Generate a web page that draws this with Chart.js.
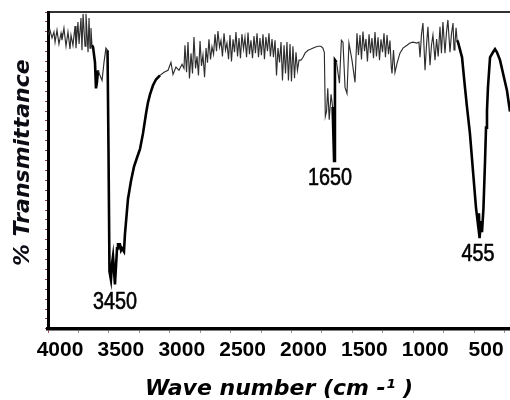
<!DOCTYPE html>
<html>
<head>
<meta charset="utf-8">
<script src="https://cdn.jsdelivr.net/npm/chart.js@4.4.1/dist/chart.umd.min.js"></script>
<style>
  html, body { margin: 0; padding: 0; background: #fff; }
  #wrap { width: 510px; height: 400px; }
</style>
</head>
<body>
<div id="wrap"><canvas id="ir" width="510" height="400"></canvas></div>
<script>
// FTIR spectrum: wavenumber (cm-1) and % transmittance
const wavenumbers = [
  4000, 3984, 3967, 3951, 3942, 3926, 3910, 3893, 3885, 3869, 3852, 3836, 3819, 3811, 3795,
  3778, 3770, 3754, 3745, 3729, 3721, 3712, 3696, 3688, 3671, 3663, 3655, 3647, 3639,
  3630, 3614, 3606, 3598, 3589, 3573, 3556, 3540, 3524, 3511, 3503, 3495, 3483, 3474, 3466,
  3450, 3433, 3425, 3409, 3400, 3392, 3376, 3368, 3343, 3318, 3294, 3269, 3244, 3220, 3195,
  3179, 3162, 3138, 3113, 3080, 3047, 3014, 2990, 2973, 2949, 2924, 2899, 2883,
  2875, 2862, 2850, 2838, 2825, 2813, 2801, 2788, 2776, 2764, 2751, 2739, 2727, 2714, 2702,
  2690, 2678, 2665, 2653, 2640, 2628, 2616, 2604, 2591, 2579, 2567, 2554, 2542, 2530, 2517,
  2505, 2493, 2480, 2468, 2456, 2443, 2431, 2419, 2407, 2394, 2382, 2369, 2357, 2345, 2333,
  2320, 2308, 2296, 2283, 2271, 2259, 2247, 2234, 2222, 2210, 2197, 2185, 2173, 2160, 2148,
  2135, 2123, 2111, 2098, 2086, 2074, 2061, 2049, 2037, 2025, 2012, 2000, 1988, 1975, 1963,
  1951, 1938, 1922, 1905, 1889, 1864, 1840, 1807, 1782, 1758,
  1742, 1730, 1722, 1712, 1702, 1690, 1675, 1662, 1650, 1643, 1630, 1606, 1590, 1577, 1560,
  1544, 1528, 1503, 1478, 1462,
  1450, 1437, 1425, 1413, 1400, 1388, 1376, 1363, 1351, 1339, 1326, 1314, 1302, 1289, 1277,
  1265, 1252, 1240, 1228, 1215, 1203, 1191, 1180, 1174, 1162, 1150,
  1133, 1109, 1084, 1051, 1027, 1002, 969, 953,
  944, 932, 920, 903, 890, 879, 862, 850, 838, 821, 808, 795, 780, 768, 756,
  739, 727, 715, 698, 686, 673, 665, 657, 648, 640, 632,
  599, 575, 558, 534, 509, 484, 468, 460, 455, 443, 435, 423, 410, 402, 394,
  386, 369, 345, 328, 312, 287, 262, 230, 205
];
const transmittance = [
  92.7, 94.3, 91.8, 93.7, 90.5, 94.3, 89.9, 93.3, 91.1, 94.9, 89.2, 93.7, 88.3, 92.7, 89.5,
  95.6, 88.6, 96.8, 89.9, 98.1, 87.9, 99.4, 89.2, 99.4, 87.3, 98.1, 88.6, 94.9, 89.5,
  88.9, 84.1, 75.9, 77.8, 81.6, 80.0, 78.4, 84.1, 88.6, 87.9, 56.2, 18.1, 15.5, 20.6, 22.9,
  14.0, 25.4, 26.7, 26.7, 24.8, 25.4, 24.4, 29.8, 41.0, 46.7, 51.1, 54.0, 56.8, 61.6, 67.9,
  71.4, 74.0, 76.8, 78.7, 80.0, 81.0, 81.6, 84.1, 80.3, 82.6, 81.6, 83.5, 82.2,
  89.5, 81.0, 90.5, 79.0, 87.0, 80.6, 92.1, 82.2, 86.0, 80.0, 90.8, 83.0, 86.4, 79.4, 88.6,
  84.0, 91.4, 85.0, 89.0, 86.7, 93.0, 87.6, 94.0, 88.9, 91.0, 86.0, 93.3, 88.0, 90.2, 85.1,
  92.7, 84.4, 91.4, 87.3, 93.7, 86.0, 91.8, 85.4, 93.0, 88.3, 92.0, 85.7, 93.5, 86.7, 91.1,
  85.4, 92.4, 87.0, 93.3, 85.7, 91.8, 86.4, 93.0, 85.1, 92.1, 87.6, 93.3, 86.0, 91.5, 85.7,
  91.1, 80.0, 88.6, 84.1, 90.5, 78.4, 89.5, 80.6, 90.5, 78.4, 89.9, 78.1, 89.2, 79.1, 87.3,
  81.6, 84.8, 84.8, 85.7, 87.0, 87.9, 88.3, 88.9, 89.2, 89.2,
  88.6, 87.3, 67.0, 68.6, 75.9, 66.0, 74.0, 70.0, 53.0, 84.8, 84.1, 77.5, 91.1, 90.5, 76.2,
  74.3, 90.2, 84.8, 77.8, 93.3,
  86.4, 92.7, 85.0, 93.8, 87.6, 91.5, 84.4, 93.0, 87.0, 91.8, 85.4, 93.7, 86.0, 92.0, 84.8,
  91.4, 87.3, 93.3, 85.7, 92.7, 86.7, 91.0, 82.5, 80.6, 88.0, 80.9,
  83.8, 87.0, 88.6, 89.5, 90.2, 90.5, 90.2, 90.5,
  85.7, 93.0, 96.5, 81.6, 90.0, 95.3, 83.2, 89.5, 92.7, 84.8, 91.5, 86.0, 95.3, 87.0, 96.8,
  87.0, 93.5, 97.5, 87.3, 93.0, 96.5, 88.0, 90.2, 95.0, 91.1, 90.5,
  85.7, 76.2, 69.9, 61.6, 49.8, 38.1, 33.0, 36.5, 28.6, 34.0, 30.5, 38.0, 53.0, 63.5, 68.9,
  76.2, 85.7, 87.3, 88.3, 87.3, 84.8, 80.6, 75.2, 68.6
];

// axis ticks (labelled every 500, plain marks in between)
const xMajorTicks = [4000, 3500, 3000, 2500, 2000, 1500, 1000, 500];
const xMinorTicks = [3750, 3250, 2750, 2250, 1750, 1250, 750, 250];

// band assignments printed under the absorption minima
const peakLabels = ['3450', '1650', '455'];
const peakWavenumbers = [3450, 1650, 455];
const peakTransmittance = [14.0, 53.0, 28.6];
const peakLabelShift = [[0, 18.5], [-4, 17.5], [-1.6, 16]];

// strong bands are drawn with a heavier stroke
const heavyRanges = [[3640, 3595], [3515, 3090], [1662, 1640], [640, 200]];
const isHeavy = a => heavyRanges.some(([hi, lo]) => a <= hi && a >= lo);

const peakLabelPlugin = {
  id: 'peakLabels',
  afterDatasetsDraw(chart) {
    const { ctx, scales: { x, y } } = chart;
    ctx.save();
    ctx.font = '23px "Liberation Sans", Arial, sans-serif';
    ctx.fillStyle = '#000';
    ctx.strokeStyle = '#000';
    ctx.lineWidth = 0.6;
    ctx.textAlign = 'center';
    ctx.textBaseline = 'middle';
    peakLabels.forEach((t, i) => {
      const px = x.getPixelForValue(peakWavenumbers[i]) + peakLabelShift[i][0];
      const py = y.getPixelForValue(peakTransmittance[i]) + peakLabelShift[i][1];
      ctx.save();
      ctx.translate(px, py);
      ctx.scale(0.86, 1);
      ctx.fillText(t, 0, 0);
      ctx.strokeText(t, 0, 0);
      ctx.restore();
    });
    ctx.restore();
  }
};

new Chart(document.getElementById('ir'), {
  type: 'line',
  data: {
    datasets: [{
      data: wavenumbers.map((w, i) => ({ x: w, y: transmittance[i] })),
      borderColor: '#222',
      borderWidth: 1.2,
      pointRadius: 0,
      tension: 0,
      fill: false,
      segment: {
        borderWidth: c => isHeavy(c.p0.parsed.x) ? 2.6 : 1.15,
        borderColor: c => isHeavy(c.p0.parsed.x) ? '#000' : '#2e2e2e'
      }
    }]
  },
  options: {
    responsive: false,
    animation: false,
    devicePixelRatio: 1,
    layout: { padding: { left: 12, top: 12, right: 0, bottom: 0 } },
    plugins: { legend: { display: false }, tooltip: { enabled: false } },
    scales: {
      x: {
        type: 'linear',
        reverse: true,
        min: 205,
        max: 4000,
        afterBuildTicks: s => {
          s.ticks = xMajorTicks.concat(xMinorTicks).sort((a, b) => a - b).map(v => ({ value: v }));
        },
        grid: {
          drawOnChartArea: false,
          tickLength: 4,
          tickWidth: 1,
          tickColor: c => (c.tick && c.tick.value === 4000) ? '#b04050' : '#8a8a8a'
        },
        border: { color: '#000', width: 3.5 },
        ticks: {
          autoSkip: false,
          maxRotation: 0,
          padding: 5,
          labelOffset: 12,
          color: '#000',
          font: { family: '"Liberation Sans", Arial, sans-serif', size: 21, weight: 'bold', lineHeight: 1.2 },
          callback: v => xMajorTicks.includes(v) ? String(v) : ''
        },
        title: {
          display: true,
          text: 'Wave number (cm -\u00B9 )',
          color: '#000',
          padding: { top: 10, bottom: 0 },
          font: { family: '"DejaVu Sans"', size: 22, weight: 'bold', style: 'italic', lineHeight: 1 }
        }
      },
      xTop: {
        type: 'linear',
        position: 'top',
        reverse: true,
        min: 205,
        max: 4000,
        grid: { display: false, drawTicks: false },
        ticks: { display: false },
        border: { color: '#333', width: 2 }
      },
      y: {
        min: 0,
        max: 100,
        afterBuildTicks: s => {
          const t = [];
          for (let v = 0; v <= 100; v += 3.125) t.push({ value: v });
          s.ticks = t;
        },
        grid: {
          drawOnChartArea: false,
          tickLength: 3,
          tickWidth: 1,
          tickColor: '#8b3a55'
        },
        border: { color: '#000', width: 3 },
        ticks: { display: false },
        title: {
          display: true,
          text: '  % Transmittance',
          color: '#0c0c14',
          padding: { top: 0, bottom: 11 },
          font: { family: '"DejaVu Sans"', size: 22, weight: 'bold', style: 'italic', lineHeight: 1 }
        }
      }
    }
  },
  plugins: [peakLabelPlugin]
});
</script>
</body>
</html>
